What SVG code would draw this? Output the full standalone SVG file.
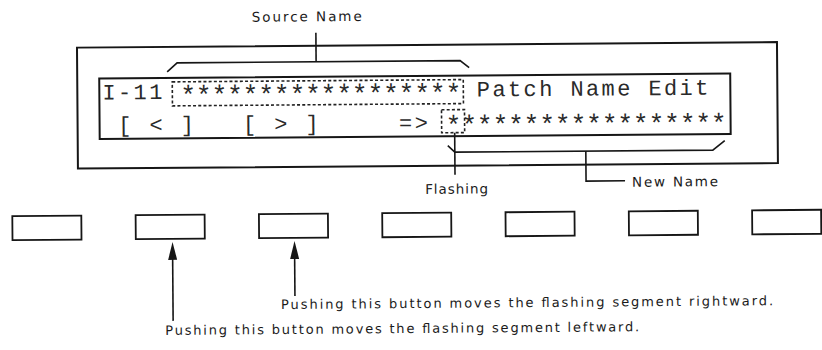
<svg xmlns="http://www.w3.org/2000/svg" width="822" height="350" viewBox="0 0 822 350">
<defs>
<style>
.frame{fill:none;stroke:#161616;stroke-width:2}
.btn{fill:#fff;stroke:#161616;stroke-width:1.8}
.dot{fill:none;stroke:#222;stroke-width:1.6;stroke-dasharray:3 2.2}
.ln{fill:none;stroke:#161616;stroke-width:1.6}
.head{fill:#161616;stroke:none}
.lcd{font-family:"Liberation Mono","DejaVu Sans Mono",monospace;font-size:22px;fill:#2a2a2a;letter-spacing:2.4px}
.star{font-family:"Liberation Mono","DejaVu Sans Mono",monospace;font-size:26px;fill:#2a2a2a;letter-spacing:0px}
.lbl{font-family:"DejaVu Sans","Liberation Sans",sans-serif;font-size:13.5px;fill:#1a1a1a}
.note{font-family:"DejaVu Sans","Liberation Sans",sans-serif;font-size:13px;fill:#1a1a1a}
</style>
</defs>
<rect width="822" height="350" fill="#fff"/>
<g transform="rotate(-0.45 411 175)">
<g id="panel">
<rect class="frame" x="78" y="45" width="700" height="121"/>
</g>
<g id="display">
<rect class="frame" x="100" y="76" width="631" height="60.5"/>
<text class="lcd" x="103" y="97">I-11</text>
<text class="lcd" x="477.4" y="97">Patch Name Edit</text>
<text class="star" x="181" y="102">******************</text>
<text class="lcd" x="103" y="130" xml:space="preserve"> [ &lt; ]   [ &gt; ]     =&gt;</text>
<text class="star" x="446.2" y="134">******************</text>
</g>
<g id="source-box"><rect class="dot" x="173" y="80" width="291" height="24"/></g>
<g id="flash-box"><rect class="dot" x="442" y="110" width="23" height="23"/></g>
<g id="label-source"><text class="lbl" x="253" y="20.5" textLength="110" lengthAdjust="spacing">Source Name</text></g>
<g id="label-flashing"><text class="lbl" x="425" y="194" textLength="63" lengthAdjust="spacing">Flashing</text></g>
<g id="label-new"><text class="lbl" x="632" y="188.5" textLength="86" lengthAdjust="spacing">New Name</text></g>
<g id="buttons">
<rect id="btn1" class="btn" x="12" y="213" width="69" height="24"/>
<rect id="btn2" class="btn" x="135.3" y="213" width="69" height="24"/>
<rect id="btn3" class="btn" x="258.6" y="213" width="69" height="24"/>
<rect id="btn4" class="btn" x="381.9" y="213" width="69" height="24"/>
<rect id="btn5" class="btn" x="505.2" y="213" width="69" height="24"/>
<rect id="btn6" class="btn" x="628.5" y="213" width="69" height="24"/>
<rect id="btn7" class="btn" x="751.8" y="213" width="69" height="24"/>
</g>
<g id="note-right"><text class="note" x="280" y="308" textLength="492" lengthAdjust="spacing">Pushing this button moves the flashing segment rightward.</text></g>
<g id="note-left"><text class="note" x="164" y="333" textLength="474" lengthAdjust="spacing">Pushing this button moves the flashing segment leftward.</text></g>
<g id="connectors">
<path class="ln" d="M168,70 L178,61 L461,61 L470,68"/>
<path class="ln" d="M317,32 L317,61"/>
<path class="ln" d="M448,146 L455,152.5 L713,152.5 L725,143"/>
<path class="ln" d="M455,133 L455,175"/>
<path class="ln" d="M586,152.5 L586,182.5 L625,182.5"/>
<path class="ln" d="M172,319 L172,256"/>
<polygon class="head" points="172,240 167.5,258 176.5,258"/>
<path class="ln" d="M294,295 L294,256"/>
<polygon class="head" points="294,240 289.5,258 298.5,258"/>
</g>
</g>
</svg>
